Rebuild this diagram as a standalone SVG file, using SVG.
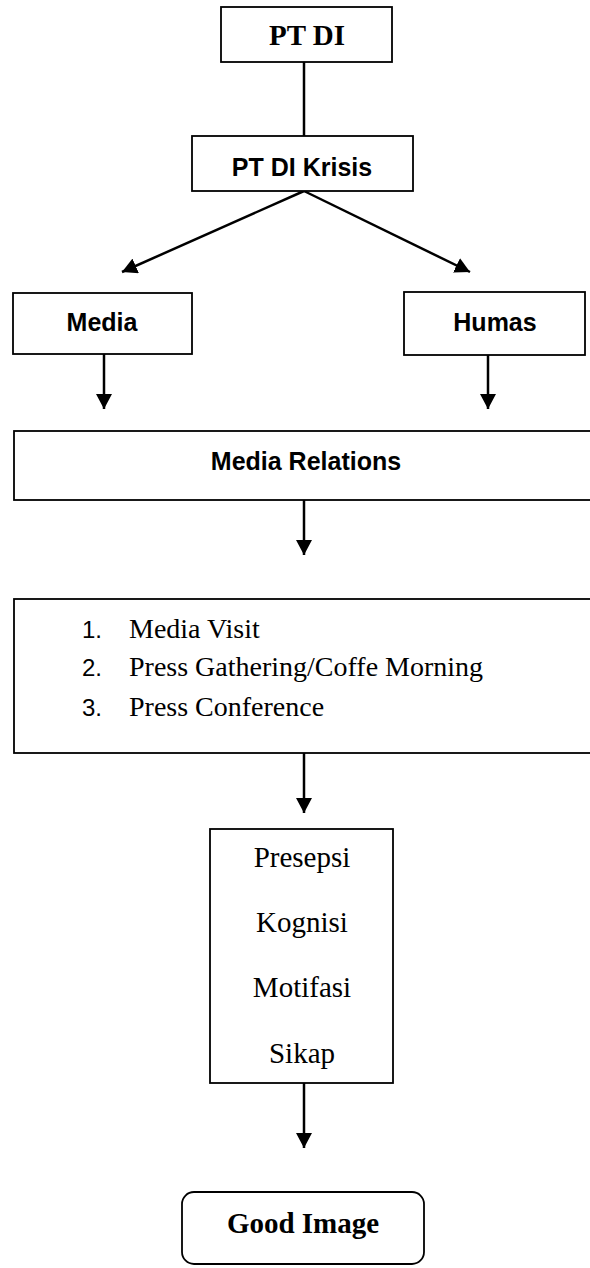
<svg xmlns="http://www.w3.org/2000/svg" width="590" height="1268" viewBox="0 0 590 1268">
<style>
.box{fill:#fff;stroke:#000;stroke-width:1.8}
.edge{fill:none;stroke:#000;stroke-width:2.5}
.sb{font-family:"Liberation Sans",Arial,sans-serif;font-weight:bold;font-size:25px;fill:#000;text-anchor:middle}
.sr{font-family:"Liberation Sans",Arial,sans-serif;font-size:24px;fill:#000}
.tr{font-family:"Liberation Serif","Times New Roman",serif;fill:#000}
.tb{font-family:"Liberation Serif","Times New Roman",serif;font-weight:bold;font-size:29px;fill:#000;text-anchor:middle}
</style>
<defs>
<marker id="arr" markerUnits="userSpaceOnUse" markerWidth="16" markerHeight="16" refX="15" refY="8" orient="auto">
<path d="M0,0 L15,8 L0,16 z" fill="#000"/>
</marker>
</defs>
<g id="connectors">
<line class="edge" x1="304" y1="62" x2="304" y2="136"/>
<line class="edge" x1="304" y1="191" x2="122" y2="272" marker-end="url(#arr)"/>
<line class="edge" x1="304" y1="191" x2="470" y2="272" marker-end="url(#arr)"/>
<line class="edge" x1="104" y1="354" x2="104" y2="409" marker-end="url(#arr)"/>
<line class="edge" x1="488" y1="355" x2="488" y2="409" marker-end="url(#arr)"/>
<line class="edge" x1="304" y1="500" x2="304" y2="555" marker-end="url(#arr)"/>
<line class="edge" x1="304" y1="753" x2="304" y2="813" marker-end="url(#arr)"/>
<line class="edge" x1="304" y1="1083" x2="304" y2="1148" marker-end="url(#arr)"/>
</g>
<g id="ptdi">
<rect class="box" x="221" y="7" width="171" height="55"/>
<text class="tb" x="307" y="45">PT DI</text>
</g>
<g id="ptdi-krisis">
<rect class="box" x="192" y="136" width="221" height="55"/>
<text class="sb" x="302" y="176">PT DI Krisis</text>
</g>
<g id="media">
<rect class="box" x="13" y="293" width="179" height="61"/>
<text class="sb" x="102" y="331">Media</text>
</g>
<g id="humas">
<rect class="box" x="404" y="292" width="181" height="63"/>
<text class="sb" x="495" y="331">Humas</text>
</g>
<g id="media-relations">
<rect class="box" x="14" y="431" width="590" height="69"/>
<text class="sb" x="306" y="470">Media Relations</text>
</g>
<g id="activities">
<rect class="box" x="14" y="599" width="590" height="154"/>
<text class="sr" x="82" y="638">1.</text>
<text class="tr" x="129" y="638" font-size="28">Media Visit</text>
<text class="sr" x="82" y="676">2.</text>
<text class="tr" x="129" y="676" font-size="28">Press Gathering/Coffe Morning</text>
<text class="sr" x="82" y="716">3.</text>
<text class="tr" x="129" y="716" font-size="28">Press Conference</text>
</g>
<g id="effects">
<rect class="box" x="210" y="829" width="183" height="254"/>
<g class="tr" font-size="29" text-anchor="middle">
<text x="302" y="867">Presepsi</text>
<text x="302" y="932">Kognisi</text>
<text x="302" y="997">Motifasi</text>
<text x="302" y="1063">Sikap</text>
</g>
</g>
<g id="good-image">
<rect class="box" x="182" y="1192" width="242" height="72" rx="12" ry="12"/>
<text class="tb" x="303" y="1233">Good Image</text>
</g>
</svg>
